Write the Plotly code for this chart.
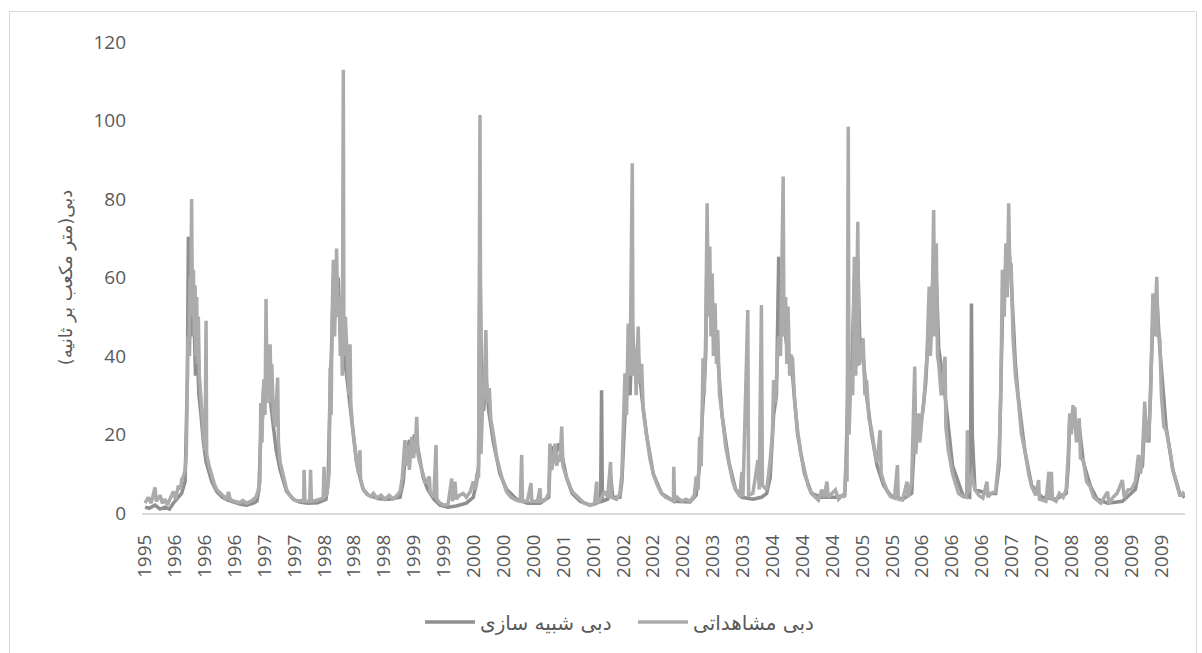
import pandas as pd
import plotly.graph_objects as go

# ---------------- data (day offsets from 1995-09-23, discharge m3/s) ----------------
start_date = "1995-09-23"

obs_days = [0, 10, 16, 30, 49, 55, 74, 85, 98, 110, 125, 139, 150, 164, 175, 180, 190, 197, 203, 207, 211, 216,
            221, 225, 229, 233, 238, 242, 246, 250, 254, 258, 262, 267, 272, 279, 287, 295, 300, 303, 315, 328,
            340, 352, 370, 385, 401, 410, 420, 440, 467, 480, 500, 520, 533, 545, 555,
            565, 569, 575, 580, 585, 590, 595, 600, 606, 610, 615, 620, 623, 631, 640, 652, 656, 664, 680, 696,
            712, 729, 750, 770, 780, 782, 786, 810, 814, 818, 840, 860, 876, 880, 884, 895,
            905, 910, 915, 920, 926, 932, 938, 942, 948, 955, 960, 965, 970, 975, 978, 985, 991, 997, 1003, 1008,
            1012, 1020, 1030, 1040, 1050, 1057, 1060, 1073, 1090, 1110, 1123, 1140, 1160, 1180, 1200, 1220, 1240, 1254,
            1265, 1278, 1285, 1295, 1300, 1311, 1320, 1330, 1336, 1342, 1350, 1360, 1368, 1380, 1398, 1402, 1420,
            1431, 1435, 1450, 1470, 1490, 1508, 1512, 1524, 1530, 1545, 1565, 1580, 1600, 1614,
            1625, 1631, 1640, 1647, 1652, 1660, 1668, 1676, 1682, 1693, 1700, 1713, 1730, 1745, 1760, 1778, 1800,
            1827, 1845, 1852, 1856, 1880, 1898, 1902, 1930, 1942, 1946, 1970, 1985,
            1991, 2000, 2010, 2016, 2025, 2032, 2040, 2049, 2055, 2073, 2100, 2139, 2160, 2188, 2210, 2221, 2225,
            2245, 2262, 2275, 2289, 2293, 2319, 2335,
            2345, 2360, 2368, 2376, 2385, 2396, 2400, 2409, 2415, 2425, 2432, 2442, 2450, 2466, 2482, 2499, 2520,
            2540, 2560, 2580, 2598, 2600, 2604, 2617, 2640, 2660, 2680, 2701, 2710, 2720, 2727, 2735,
            2744, 2750, 2757, 2764, 2770, 2777, 2783, 2789, 2795, 2803, 2810, 2816, 2825, 2837, 2855, 2871, 2890,
            2904, 2925, 2935, 2940, 2964, 2968, 2989, 3014, 3020, 3031, 3036, 3057, 3074, 3085, 3091, 3100, 3110,
            3116, 3125, 3138, 3142, 3150, 3156, 3162, 3170, 3175, 3184, 3195, 3209, 3225, 3243, 3260, 3277, 3300,
            3311, 3328, 3340, 3353, 3360, 3395, 3410, 3429, 3440,
            3446, 3452, 3458, 3462, 3472, 3480, 3488, 3495, 3505, 3510, 3514, 3520, 3531, 3540, 3548, 3560, 3573,
            3590, 3600, 3615, 3620, 3632, 3650, 3666, 3685, 3700, 3704, 3725, 3747, 3752,
            3770, 3785, 3790, 3802, 3810, 3822, 3830, 3839, 3845, 3856, 3862, 3870, 3878, 3884, 3891, 3897, 3903,
            3915, 3934, 3938, 3950, 3971, 4000, 4022, 4040, 4044, 4048, 4064, 4081, 4100, 4120, 4140, 4145, 4160, 4183,
            4200, 4208, 4216, 4225, 4233, 4240, 4247, 4253, 4259, 4268, 4280, 4293, 4310, 4326, 4345, 4360, 4380,
            4394, 4398, 4411, 4430, 4445, 4450, 4457, 4462, 4480, 4496, 4515, 4530, 4540,
            4547, 4555, 4563, 4570, 4572, 4580, 4594, 4600, 4614, 4630, 4648, 4665, 4682, 4700, 4733, 4740, 4760,
            4780, 4806, 4815, 4834, 4850, 4870, 4885, 4895,
            4905, 4916, 4925, 4936, 4945, 4956, 4965, 4975, 4982, 4990, 4998, 5010, 5021, 5040, 5054, 5070, 5088,
            5100, 5105, 5113]
obs_values = [2.5, 3.5, 4.0, 2.5, 6.5, 3.0, 4.5, 2.5, 3.5, 2.0, 4.0, 5.5, 3.5, 7.0, 6.0, 8.5, 9.5, 11, 15, 33, 45, 40,
              60, 55, 80, 50, 62, 45, 58, 40, 55, 38, 50, 35, 30, 26, 20, 16, 49, 15, 12, 9.5,
              7.5, 6.0, 5.0, 4.2, 3.5, 5.4, 3.3, 3.0, 2.6, 3.2, 2.5, 3.0, 3.5, 4.0, 5.5,
              8, 28, 18, 30, 34, 25, 54.5, 30, 42, 28, 43, 30, 38, 25, 22, 34.5, 18, 13, 9, 6,
              4.5, 3.5, 3.0, 3.2, 2.8, 11, 3, 3.0, 11, 3, 3.2, 3.5, 3.8, 11.8, 4.0, 5,
              10, 37, 25, 50, 64.5, 45, 60, 67.4, 50, 55, 40, 48, 35, 112.9, 40, 50, 43, 35, 30, 43,
              28, 22, 17, 13, 10, 16, 8.5, 6, 4.8, 4.2, 5, 3.8, 4.5, 3.5, 4.5, 3.6, 4.5, 5.5,
              9, 18.6, 12, 17.3, 11, 19.4, 14, 18, 24.5, 15, 13, 11, 10, 7.5, 9.3, 5.5, 4.0,
              17.3, 3.5, 2.5, 2.0, 2.2, 8.8, 3, 8.0, 3.5, 4.5, 5.0, 4.0, 5.5, 8.0,
              6, 10, 9, 101.4, 15, 28, 32, 46.6, 28, 31.8, 24, 20, 14, 11, 8, 5.4, 4,
              3.2, 3.0, 14.8, 3, 3.0, 7.6, 3, 3.0, 6.3, 3, 3.5, 5,
              17.7, 11, 14, 17.7, 12, 14.8, 13, 22, 12, 9, 5.5, 3.5, 2.5, 2.0, 2.2, 8.0, 2.5,
              4.0, 5.5, 4, 13, 4, 3.5, 5,
              10, 35.6, 25, 48.3, 35, 89.1, 35, 42, 30, 47.5, 33, 38, 26, 20, 14, 10, 7,
              5, 4, 3.5, 3.0, 11.8, 3.0, 4, 3.0, 3.5, 3.0, 4.5, 9.3, 6, 19.4, 12,
              39.4, 30, 45, 78.9, 50, 67.9, 45, 61, 40, 53.4, 38, 46.6, 30, 25.4, 17, 12.7, 8,
              5.9, 4.2, 10.5, 4.0, 51.7, 4.5, 5.0, 13.5, 6, 53, 7, 5.9, 13.5, 20, 33.9, 28, 40,
              45, 40, 85.7, 45, 55, 38, 52.6, 35, 40.3, 39.4, 28, 21.1, 15, 11, 7, 5.0, 4,
              3.3, 5.9, 4, 8.0, 4, 5.9, 3.5, 4.5, 4,
              12.7, 8, 98.4, 20, 36.4, 30, 65.3, 35, 74.2, 38, 38.1, 40, 44.5, 30, 33.9, 24, 21.1,
              15, 13, 21.1, 10, 8, 5.5, 4.2, 3.8, 12.2, 3.5, 3.3, 8.0, 4,
              8, 37.3, 15, 25.4, 18, 25, 28, 35.6, 40, 57.7, 40, 50, 77.2, 45, 68.7, 40, 38.1,
              30, 39.8, 22, 16, 10, 5, 4.2, 4, 21.1, 5, 10, 5.9, 4.5, 3.8, 8.0, 4, 5, 5.5,
              15, 30, 62, 50, 68.7, 55, 78.9, 60, 63.6, 45, 35, 29.6, 20, 16.1, 10, 6.7, 4.5,
              8.4, 3.5, 3.3, 3.0, 10.5, 3.5, 10.5, 3.5, 3.0, 5.0, 4.0, 6, 15,
              25.4, 20, 27.5, 22, 27, 18, 24.1, 14, 13.5, 8, 6.7, 4, 3.3, 2.5, 5.4, 2.5, 4.0,
              5, 8.4, 4, 5.9, 6, 8, 14.8, 10,
              15, 28.4, 18, 20, 30, 56, 45, 60.2, 45, 44.5, 30, 22, 21.1, 16, 11, 8, 4.5,
              4.5, 5.0, 4.5]

sim_days = [0, 20, 49, 74, 98, 120, 139, 164, 180, 197, 203, 208, 213, 218, 225, 232, 240, 248, 256, 265, 275,
            287, 300, 315, 328, 352, 380, 410, 440, 470, 500, 533, 550,
            560, 569, 578, 585, 592, 600, 610, 620, 631, 645, 664, 680, 696, 729, 760, 800, 850, 890,
            900, 910, 920, 930, 940, 950, 960, 970, 980, 991, 1000, 1008, 1024, 1040, 1057, 1073, 1100, 1150,
            1200, 1254,
            1270, 1278, 1290, 1300, 1311, 1325, 1336, 1350, 1368, 1390, 1420, 1450, 1490, 1530, 1580, 1614,
            1631, 1640, 1647, 1655, 1665, 1676, 1690, 1713, 1745, 1778, 1827, 1880, 1942, 1985,
            1991, 2005, 2020, 2035, 2049, 2073, 2100, 2139, 2188, 2221, 2240, 2245, 2249, 2275, 2289, 2300, 2335,
            2345, 2360, 2376, 2385, 2396, 2409, 2425, 2442, 2466, 2499, 2540, 2600, 2680, 2710, 2727,
            2744, 2757, 2764, 2777, 2789, 2803, 2816, 2837, 2871, 2904, 2935, 2989, 3031, 3057, 3074, 3091, 3105,
            3116, 3125, 3138, 3150, 3162, 3184, 3209, 3243, 3277, 3328, 3400, 3440,
            3446, 3458, 3472, 3488, 3505, 3514, 3531, 3548, 3573, 3600, 3632, 3666, 3725, 3770,
            3785, 3802, 3822, 3839, 3856, 3870, 3878, 3891, 3903, 3934, 3971, 4022, 4055, 4060, 4064, 4068, 4081,
            4140, 4183,
            4200, 4216, 4233, 4247, 4259, 4280, 4293, 4326, 4360, 4411, 4480, 4530, 4540,
            4547, 4563, 4580, 4594, 4614, 4648, 4682, 4733, 4806, 4870, 4885,
            4905, 4916, 4936, 4956, 4975, 4990, 5021, 5054, 5088, 5113]
sim_values = [1.5, 1.2, 2.0, 1.0, 1.5, 1.0, 2.5, 4, 5, 8, 20, 34, 70.4, 40, 60, 45, 52, 35, 42, 30, 25,
              18, 13, 10, 8, 5.5, 4, 3.2, 2.6, 2.2, 2.0, 2.5, 3.0,
              6, 20, 25, 34, 28, 40, 32, 27, 22, 16, 11, 8, 5.5, 3.5, 2.8, 2.5, 2.6, 3.5,
              8, 30, 45, 64, 50, 60, 45, 52, 40, 35, 31, 28, 20, 13, 9, 6, 4.5, 3.6,
              3.5, 4,
              8, 14, 16, 18.6, 16, 20, 18, 14, 9, 6, 3.5, 2.0, 1.5, 1.8, 2.5, 4,
              8, 12, 67, 30, 26, 35, 26, 18, 10, 6, 3.5, 2.5, 2.5, 4,
              12, 17, 15, 17.7, 15, 9, 5, 3, 2, 2.5, 3, 31.3, 3, 3.5, 10, 4, 4,
              8, 25, 35, 30, 48, 36, 40, 30, 20, 10, 5, 3, 2.8, 4.5, 12,
              30, 40, 68, 55, 50, 45, 40, 25, 13, 6, 4, 3.5, 4, 5, 9, 25, 30,
              65.3, 45, 50, 45, 40, 35, 20, 10, 5, 4, 4, 4.5,
              10, 36, 30, 60, 65, 45, 40, 30, 20, 12, 7, 4.5, 3.5, 5,
              20, 22, 25, 33, 50, 56, 62, 60, 42, 30, 12, 4.5, 4, 20, 53.4, 20, 6,
              5, 5,
              12, 50, 60, 68, 60, 38, 30, 16, 7, 4, 3.5, 5, 12,
              24, 25, 20, 22, 13, 7, 3.5, 2.5, 3, 6, 10,
              12, 25, 18, 50, 55, 42, 22, 11, 5, 4]

tick_labels = ["1995", "1996", "1996", "1996", "1997", "1997", "1998", "1998", "1998", "1999", "1999",
               "2000", "2000", "2000", "2001", "2001", "2002", "2002", "2002", "2003", "2003",
               "2004", "2004", "2004", "2005", "2005", "2006", "2006", "2006", "2007", "2007",
               "2008", "2008", "2009", "2009"]
label_step_days = 147

series_names = ["دبی شبیه سازی", "دبی مشاهداتی"]
y_title = "دبی(متر مکعب بر ثانیه)\u200f"

# ---------------- build ----------------
t0 = pd.Timestamp(start_date)
obs_x = t0 + pd.to_timedelta(obs_days, unit="D")
sim_x = t0 + pd.to_timedelta(sim_days, unit="D")
tick_vals = [t0 + pd.Timedelta(days=label_step_days * k) for k in range(len(tick_labels))]

font_main = "Open Sans, DejaVu Sans, sans-serif"
txt_color = "#595959"

fig = go.Figure()
fig.add_trace(go.Scatter(x=sim_x, y=sim_values, mode="lines", name=series_names[0],
                         line=dict(color="#8f8f8f", width=3.5)))
fig.add_trace(go.Scatter(x=obs_x, y=obs_values, mode="lines", name=series_names[1],
                         line=dict(color="#ababab", width=3.5)))

L, R, T, B = 142, 17, 42, 140
W, H = 1202, 653
pw, ph = W - L - R, H - T - B

def px_to_paper_x(px):
    return (px - L) / pw

def px_to_paper_y(py):
    return (H - B - py) / ph

fig.update_layout(
    width=W, height=H,
    margin=dict(l=L, r=R, t=T, b=B, autoexpand=False),
    paper_bgcolor="white", plot_bgcolor="white",
    font=dict(family=font_main, color=txt_color, size=19),
    showlegend=True,
    legend=dict(orientation="h", x=px_to_paper_x(633), xanchor="center", y=px_to_paper_y(622), yanchor="middle",
                font=dict(size=20, color=txt_color, family="DejaVu Sans, sans-serif"),
                itemwidth=50, entrywidth=148, tracegroupgap=0),
    xaxis=dict(type="date",
               range=[t0 - pd.Timedelta(days=15), t0 + pd.Timedelta(days=max(obs_days) + 1)],
               tickmode="array", tickvals=tick_vals, ticktext=tick_labels,
               tickangle=-90, showgrid=False, zeroline=False,
               showline=True, linecolor="#d9d9d9", linewidth=2,
               ticks="", ticklabelstandoff=12,
               tickfont=dict(size=19, color=txt_color, family=font_main)),
    yaxis=dict(range=[0, 120], tickmode="array", tickvals=[0, 20, 40, 60, 80, 100, 120],
               showgrid=False, zeroline=False, showline=False, ticks="",
               ticklabelstandoff=15,
               tickfont=dict(size=19, color=txt_color, family=font_main),
               title=dict(text=y_title, standoff=16,
                          font=dict(size=18, color=txt_color, family="DejaVu Sans, sans-serif"))),
    shapes=[dict(type="rect", xref="paper", yref="paper",
                 x0=px_to_paper_x(9.5), x1=px_to_paper_x(1196.5),
                 y0=px_to_paper_y(700), y1=px_to_paper_y(11.5),
                 line=dict(color="#d9d9d9", width=1), fillcolor="rgba(0,0,0,0)", layer="below")],
)

fig.write_html("out.html", config={"displayModeBar": False},
               post_script="document.body.style.margin='0';document.body.style.padding='0';")
